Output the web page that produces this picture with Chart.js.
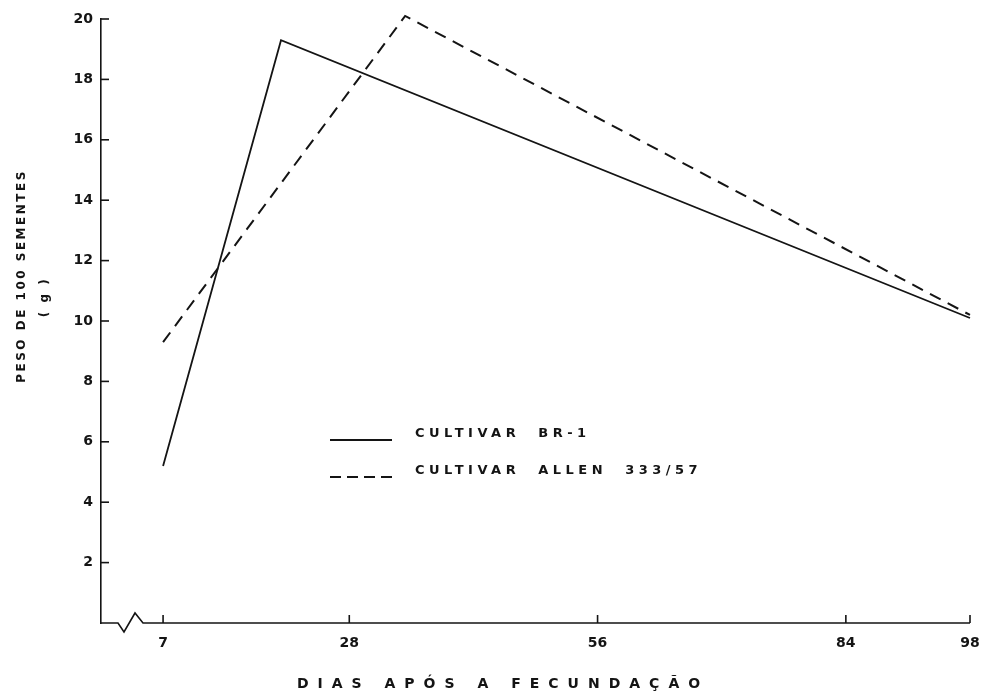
<!DOCTYPE html>
<html>
<head>
<meta charset="utf-8">
<script src="https://cdn.jsdelivr.net/npm/chart.js@4.4.1/dist/chart.umd.min.js"></script>
<style>
  html, body { margin: 0; padding: 0; background: #fff; }
  #wrap { width: 985px; height: 699px; position: relative; }
</style>
</head>
<body>
<div id="wrap"><canvas id="seedChart"></canvas></div>
<script>
// Data
const brDays = [7, 20.3, 98];
const brWeight = [5.2, 19.3, 10.1];
const allenDays = [7, 34.3, 98];
const allenWeight = [9.3, 20.1, 10.2];
const xTicks = [7, 28, 56, 84, 98];
const yTicks = [2, 4, 6, 8, 10, 12, 14, 16, 18, 20];
const seriesNames = ['CULTIVAR  BR-1', 'CULTIVAR  ALLEN  333/57'];

const ink = '#141414';
const tickFont = { family: 'DejaVu Sans', size: 14, weight: 'bold' };

function toPoints(xs, ys) {
    return xs.map((x, i) => ({ x: x, y: ys[i] }));
}

// Inward ticks, x axis with break, axis titles and legend
const decorPlugin = {
    id: 'decor',
    afterDraw(chart) {
        const ctx = chart.ctx;
        const xs = chart.scales.x;
        const ys = chart.scales.y;
        const area = chart.chartArea;
        const y0 = ys.getPixelForValue(0);
        ctx.save();
        ctx.strokeStyle = ink;
        ctx.fillStyle = ink;
        ctx.lineWidth = 1.6;

        // x axis line with break symbol
        ctx.beginPath();
        ctx.moveTo(area.left, y0);
        ctx.lineTo(area.left + 17, y0);
        ctx.lineTo(area.left + 23, y0 + 9);
        ctx.lineTo(area.left + 34, y0 - 10);
        ctx.lineTo(area.left + 42, y0);
        ctx.lineTo(xs.getPixelForValue(98), y0);
        ctx.stroke();

        // y ticks pointing inward
        yTicks.forEach(v => {
            const py = ys.getPixelForValue(v);
            ctx.beginPath();
            ctx.moveTo(area.left, py);
            ctx.lineTo(area.left + 8, py);
            ctx.stroke();
        });
        // x ticks pointing up
        xTicks.forEach(v => {
            const px = xs.getPixelForValue(v);
            ctx.beginPath();
            ctx.moveTo(px, y0);
            ctx.lineTo(px, y0 - 8);
            ctx.stroke();
        });

        // axis titles
        ctx.textBaseline = 'middle';
        ctx.textAlign = 'center';
        ctx.font = 'bold 12px "DejaVu Sans"';
        ctx.letterSpacing = '2.5px';
        ctx.save();
        ctx.translate(22, 276);
        ctx.rotate(-Math.PI / 2);
        ctx.fillText('PESO DE 100 SEMENTES', 0, 0);
        ctx.restore();
        ctx.save();
        ctx.translate(45, 297);
        ctx.rotate(-Math.PI / 2);
        ctx.fillText('( g )', 0, 0);
        ctx.restore();

        ctx.font = 'bold 14px "DejaVu Sans"';
        ctx.letterSpacing = '9px';
        ctx.fillText('DIAS APÓS A FECUNDAÇÃO', 503, 684);

        // legend
        ctx.textAlign = 'left';
        ctx.font = 'bold 13px "DejaVu Sans"';
        ctx.letterSpacing = '4.5px';
        ctx.lineWidth = 2;
        ctx.beginPath();
        ctx.moveTo(330, 440);
        ctx.lineTo(392, 440);
        ctx.stroke();
        ctx.fillText(seriesNames[0], 415, 434);
        ctx.setLineDash([11, 6]);
        ctx.beginPath();
        ctx.moveTo(330, 477);
        ctx.lineTo(392, 477);
        ctx.stroke();
        ctx.setLineDash([]);
        ctx.fillText(seriesNames[1], 415, 471);
        ctx.restore();
    }
};

new Chart(document.getElementById('seedChart').getContext('2d'), {
    type: 'line',
    data: {
        datasets: [
            {
                label: seriesNames[0],
                data: toPoints(brDays, brWeight),
                borderColor: ink,
                borderWidth: 1.8,
                pointRadius: 0,
                tension: 0,
                clip: false
            },
            {
                label: seriesNames[1],
                data: toPoints(allenDays, allenWeight),
                borderColor: ink,
                borderWidth: 2,
                borderDash: [12, 8],
                pointRadius: 0,
                tension: 0,
                clip: false
            }
        ]
    },
    options: {
        responsive: true,
        maintainAspectRatio: false,
        animation: false,
        layout: { padding: { left: 0, top: 19, right: 15, bottom: 0 } },
        plugins: {
            legend: { display: false },
            tooltip: { enabled: false }
        },
        scales: {
            x: {
                type: 'linear',
                min: 0,
                max: 98,
                afterBuildTicks: scale => { scale.ticks = xTicks.map(v => ({ value: v })); },
                afterFit: scale => {
                    scale.height = 76;
                    scale.paddingLeft = 0;
                    scale.paddingRight = 0;
                },
                grid: { display: false, drawTicks: false },
                border: { display: false },
                ticks: { color: ink, font: tickFont, padding: 12, maxRotation: 0, autoSkip: false }
            },
            y: {
                min: 0,
                max: 20,
                afterBuildTicks: scale => { scale.ticks = yTicks.map(v => ({ value: v })); },
                afterFit: scale => {
                    scale.width = 101;
                    scale.paddingTop = 0;
                    scale.paddingBottom = 0;
                },
                grid: { display: false, drawTicks: false },
                border: { display: true, color: ink, width: 1.6 },
                ticks: { color: ink, font: tickFont, padding: 8 }
            }
        }
    },
    plugins: [decorPlugin]
});
</script>
</body>
</html>
